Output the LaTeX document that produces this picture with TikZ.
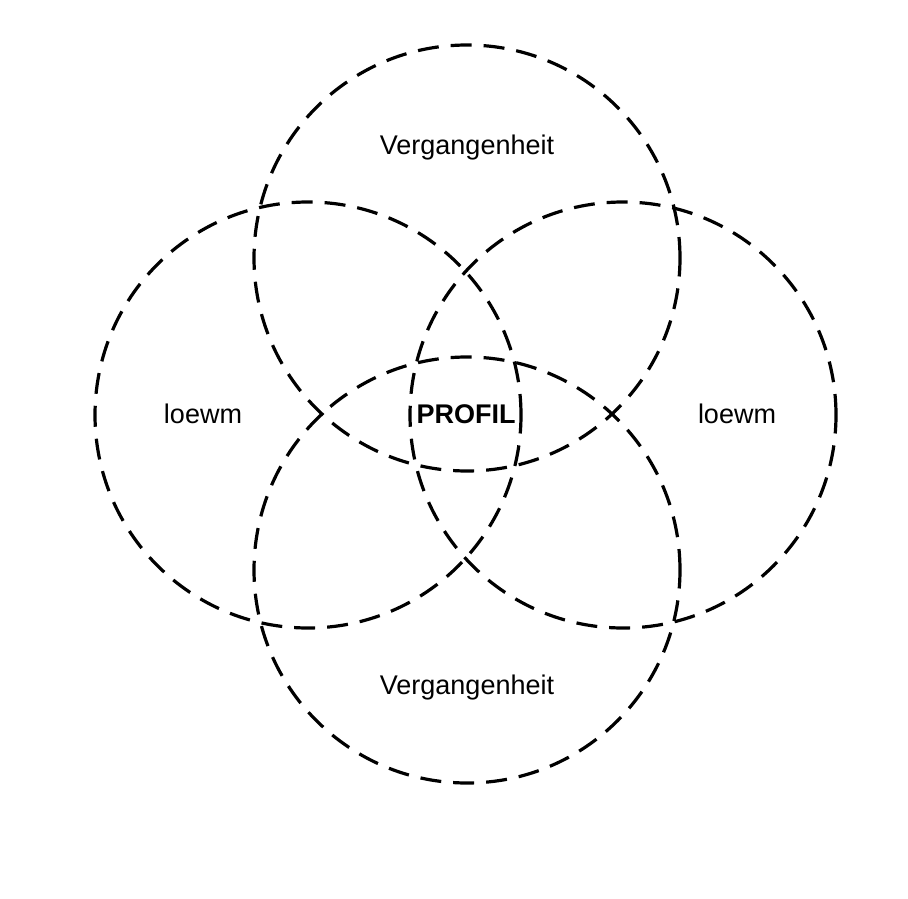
\documentclass[tikz,border=0pt]{standalone}
\usepackage{fontspec}
\setmainfont{Liberation Sans}
\begin{document}
\begin{tikzpicture}[x=0.5pt, y=-0.5pt,
		ring/.style = {shape=circle, draw, line width=1.6pt, dash pattern=on 10.5pt off 6pt, minimum size=213pt, inner sep=0pt},
		every node/.style = {align=center, font=\fontsize{13.5}{16}\selectfont}]
		
		\useasboundingbox (0,0) rectangle (908,898);
		\node[ring] (top) at (467,258) {};
		\node[ring] (left) at (308,415) {};
		\node[ring] (right) at (623,415) {};
		\node[ring] (bottom) at (467,570) {};
		
		\node (past1) at (467,148) {Vergangenheit};
		\node (past2) at (467,688) {Vergangenheit};
		\node (lw1) at (203,414) {loewm};
		\node (lw2) at (737,414) {loewm};
		\node[font=\fontsize{13.5}{16}\selectfont\bfseries] (profil) at (466,414) {PROFIL};
		\end{tikzpicture}
\end{document}
